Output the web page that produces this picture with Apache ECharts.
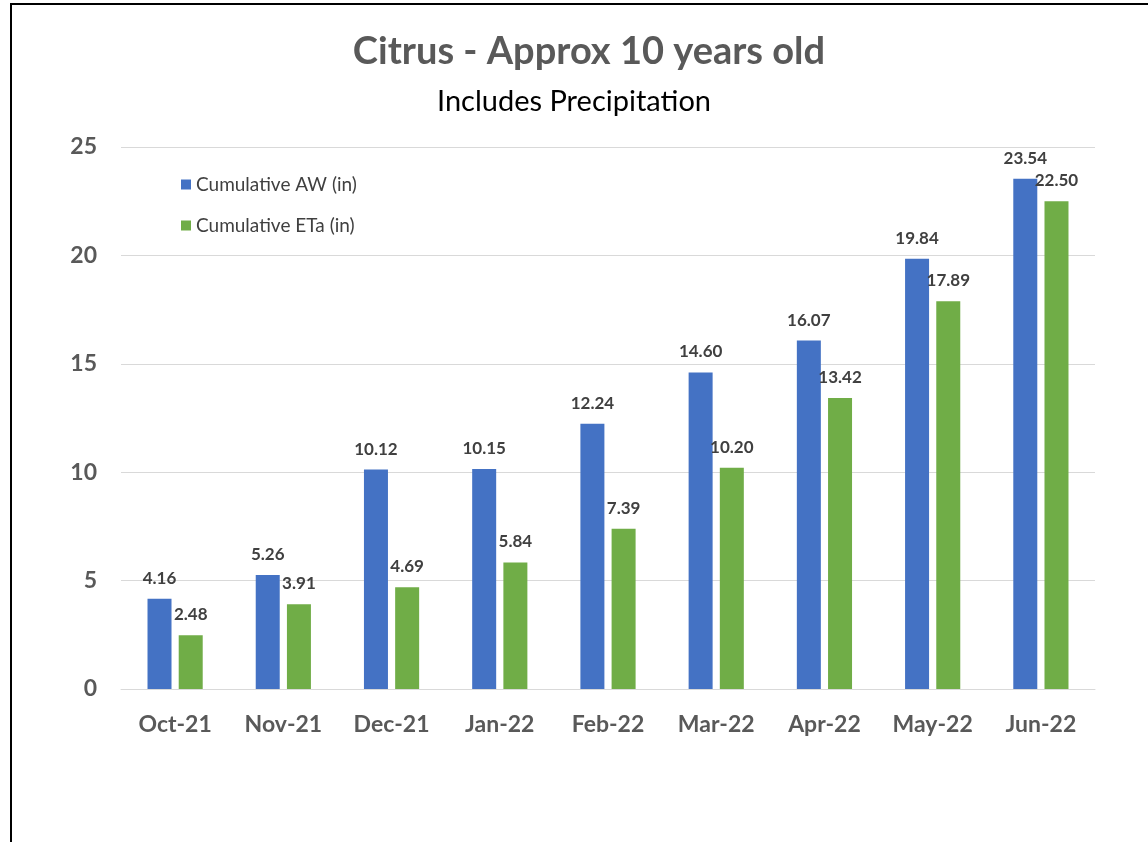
<!DOCTYPE html>
<html>
<head>
<meta charset="utf-8">
<script src="https://cdn.jsdelivr.net/npm/echarts@6/dist/echarts.min.js"></script>
<style>
  html, body { margin: 0; padding: 0; background: #fff; overflow: hidden; }
  #chart { width: 1148px; height: 842px; }
  .frame { position: absolute; left: 10px; top: 3px; width: 1136px; height: 837px;
    border-left: 2px solid #000; border-top: 2px solid #000; pointer-events: none; }
</style>
</head>
<body>
<div id="chart"></div>
<div class="frame"></div>
<script>
const months = ['Oct-21', 'Nov-21', 'Dec-21', 'Jan-22', 'Feb-22', 'Mar-22', 'Apr-22', 'May-22', 'Jun-22']
const cumulativeAW = [4.16, 5.26, 10.12, 10.15, 12.24, 14.60, 16.07, 19.84, 23.54]
const cumulativeETa = [2.48, 3.91, 4.69, 5.84, 7.39, 10.20, 13.42, 17.89, 22.50]

const font = 'Lato, "Open Sans", sans-serif'

const chart = echarts.init(document.getElementById('chart'), null, { renderer: 'canvas' })

const labelStyle = {
  show: true,
  position: 'top',
  distance: 12,
  fontFamily: font,
  fontSize: 17,
  fontWeight: 'bold',
  color: '#404040',
  formatter: p => p.value.toFixed(2),
}

chart.setOption({
  backgroundColor: '#fff',
  animation: false,
  title: [
    {
      text: 'Citrus - Approx 10 years old',
      left: 584,
      textAlign: 'center',
      top: 28,
      textStyle: { fontFamily: font, fontSize: 38, fontWeight: 'bold', color: '#595959' },
    },
    {
      text: 'Includes Precipitation',
      left: 569,
      textAlign: 'center',
      top: 82,
      textStyle: { fontFamily: font, fontSize: 29, fontWeight: 'normal', color: '#000' },
    },
  ],
  legend: {
    orient: 'vertical',
    left: 176,
    top: 170,
    itemGap: 22,
    itemWidth: 10,
    itemHeight: 10,
    icon: 'rect',
    textStyle: { fontFamily: font, fontSize: 19, color: '#404040' },
    data: ['Cumulative AW (in)', 'Cumulative ETa (in)'],
  },
  grid: { left: 121, right: 53, top: 147, bottom: 153 },
  xAxis: {
    type: 'category',
    data: months,
    axisTick: { show: false },
    axisLine: { lineStyle: { color: '#D9D9D9', width: 1 } },
    axisLabel: { margin: 24, fontFamily: font, fontSize: 23, fontWeight: 'bold', color: '#595959' },
  },
  yAxis: {
    type: 'value',
    min: 0,
    max: 25,
    interval: 5,
    axisLine: { show: false },
    axisTick: { show: false },
    splitLine: { lineStyle: { color: '#D9D9D9', width: 1 } },
    axisLabel: { margin: 24, fontFamily: font, fontSize: 23, fontWeight: 'bold', color: '#595959' },
  },
  series: [
    {
      name: 'Cumulative AW (in)',
      type: 'bar',
      data: cumulativeAW,
      barWidth: 24,
      barGap: '30%',
      itemStyle: { color: '#4472C4' },
      label: labelStyle,
    },
    {
      name: 'Cumulative ETa (in)',
      type: 'bar',
      data: cumulativeETa,
      barWidth: 24,
      itemStyle: { color: '#70AD47' },
      label: labelStyle,
    },
  ],
})
</script>
</body>
</html>
